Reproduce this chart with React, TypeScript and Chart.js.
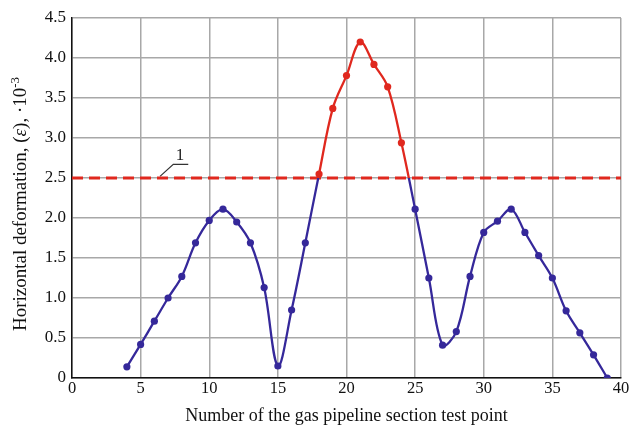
import React, { useEffect, useRef } from "react";
import { Chart, registerables } from "chart.js";

Chart.register(...registerables);

const testPoints = [4, 5, 6, 7, 8, 9, 10, 11, 12, 13, 14, 15, 16, 17, 18, 19, 20, 21, 22, 23, 24, 25, 26, 27, 28, 29, 30, 31, 32, 33, 34, 35, 36, 37, 38, 39];
const deformation = [0.14, 0.42, 0.71, 1.0, 1.27, 1.69, 1.97, 2.11, 1.95, 1.69, 1.13, 0.15, 0.85, 1.69, 2.55, 3.37, 3.78, 4.2, 3.92, 3.64, 2.94, 2.11, 1.25, 0.41, 0.58, 1.27, 1.82, 1.96, 2.11, 1.82, 1.53, 1.25, 0.84, 0.565, 0.29, 0.0];
const thresholdValue = 2.5;
const thresholdX = [0, 40];
const leaderX = [6.41, 7.38, 8.47];
const leaderY = [2.52, 2.67, 2.67];
const labelText = "1";
const labelPos = { x: 7.87, y: 2.78 };
const xTicks = [0, 5, 10, 15, 20, 25, 30, 35, 40];
const yTicks = [0, 0.5, 1, 1.5, 2, 2.5, 3, 3.5, 4, 4.5];
const yTitleParts = [
  { text: "Horizontal deformation, (", style: "normal", sup: false },
  { text: "ε", style: "italic", sup: false },
  { text: "), ·10", style: "normal", sup: false },
  { text: "-3", style: "normal", sup: true },
];

const RED = "#e0281e";
const BLUE = "#35289a";
const FONT = "'Liberation Serif', 'DejaVu Serif', serif";

export default function App() {
  const ref = useRef<HTMLCanvasElement | null>(null);

  useEffect(() => {
    const canvas = ref.current;
    if (!canvas) return;

    const labelPlugin = {
      id: "labelPlugin",
      afterDatasetsDraw(chart: any) {
        const { ctx, scales, chartArea } = chart;
        const px = scales.x.getPixelForValue(labelPos.x);
        const py = scales.y.getPixelForValue(labelPos.y);
        ctx.save();
        ctx.fillStyle = "#222";
        ctx.font = `17px ${FONT}`;
        ctx.textAlign = "center";
        ctx.textBaseline = "middle";
        ctx.fillText(labelText, px, py);
        ctx.restore();

        // y axis title with italic epsilon and superscript
        const size = 19;
        const supSize = 13;
        ctx.save();
        ctx.fillStyle = "#111";
        ctx.textBaseline = "alphabetic";
        ctx.textAlign = "left";
        const widths = yTitleParts.map((p) => {
          ctx.font = `${p.style} ${p.sup ? supSize : size}px ${FONT}`;
          return ctx.measureText(p.text).width;
        });
        const total = widths.reduce((a, b) => a + b, 0);
        const cy = (chartArea.top + chartArea.bottom) / 2 + 6;
        ctx.translate(26, cy);
        ctx.rotate(-Math.PI / 2);
        let x = -total / 2;
        yTitleParts.forEach((p, i) => {
          ctx.font = `${p.style} ${p.sup ? supSize : size}px ${FONT}`;
          ctx.fillText(p.text, x, p.sup ? -7 : 0);
          x += widths[i];
        });
        ctx.restore();
      },
    };

    const gradientColor = (context: any) => {
      const chart = context.chart;
      const { chartArea, scales } = chart;
      if (!chartArea || !scales.y) return BLUE;
      const top = chartArea.top;
      const bottom = chartArea.bottom;
      const yp = scales.y.getPixelForValue(thresholdValue);
      const f = Math.min(1, Math.max(0, (yp - top) / (bottom - top)));
      const g = chart.ctx.createLinearGradient(0, top, 0, bottom);
      g.addColorStop(0, RED);
      g.addColorStop(f, RED);
      g.addColorStop(f, BLUE);
      g.addColorStop(1, BLUE);
      return g;
    };

    const chart = new Chart(canvas, {
      type: "line",
      data: {
        datasets: [
          {
            data: testPoints.map((x, i) => ({ x, y: deformation[i] })),
            borderColor: gradientColor,
            borderWidth: 2.3,
            tension: 0.35,
            pointRadius: 3.6,
            pointBorderWidth: 0,
            pointBackgroundColor: (c: any) => (c.raw && c.raw.y > thresholdValue ? RED : BLUE),
            order: 1,
          },
          {
            data: thresholdX.map((x) => ({ x, y: thresholdValue })),
            borderColor: RED,
            borderWidth: 3,
            borderDash: [11, 6],
            pointRadius: 0,
            tension: 0,
            order: 2,
          },
          {
            data: leaderX.map((x, i) => ({ x, y: leaderY[i] })),
            borderColor: "#333",
            borderWidth: 1.2,
            pointRadius: 0,
            tension: 0,
            order: 3,
          },
        ],
      },
      options: {
        animation: false,
        responsive: false,
        maintainAspectRatio: false,
        layout: { padding: { left: 0, right: 11, top: 18, bottom: 0 } },
        plugins: { legend: { display: false }, tooltip: { enabled: false } },
        scales: {
          x: {
            type: "linear",
            min: 0,
            max: 40,
            afterFit: (s: any) => {
              s.height = 49;
            },
            afterBuildTicks: (s: any) => {
              s.ticks = xTicks.map((v) => ({ value: v }));
            },
            ticks: {
              color: "#111",
              font: { family: FONT, size: 16.5 },
              padding: 1,
              maxRotation: 0,
            },
            grid: { color: "#a8a8a8", lineWidth: 1.5, drawTicks: false },
            border: { color: "#111", width: 1.5 },
            title: {
              display: true,
              text: "Number of the gas pipeline section test point",
              color: "#111",
              font: { family: FONT, size: 18 },
              padding: { top: 2, bottom: 0 },
            },
          },
          y: {
            type: "linear",
            min: 0,
            max: 4.5,
            afterFit: (s: any) => {
              s.width = 72;
            },
            afterBuildTicks: (s: any) => {
              s.ticks = yTicks.map((v) => ({ value: v }));
            },
            ticks: {
              color: "#111",
              font: { family: FONT, size: 17 },
              padding: 6,
              callback: (v: any) => (v === 0 ? "0" : Number(v).toFixed(1)),
            },
            grid: { color: "#a8a8a8", lineWidth: 1.5, drawTicks: false },
            border: { color: "#111", width: 1.5 },
          },
        },
      },
      plugins: [labelPlugin],
    });

    return () => chart.destroy();
  }, []);

  return (
    <div style={{ position: "fixed", left: 0, top: 0, width: 632, height: 427, background: "#fff" }}>
      <canvas ref={ref} width={632} height={427} style={{ width: 632, height: 427, display: "block" }} />
    </div>
  );
}
